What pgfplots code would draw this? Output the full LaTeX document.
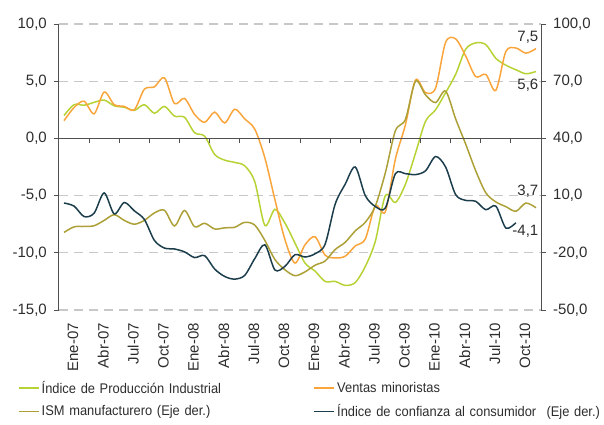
\documentclass[border=0pt]{standalone}
\usepackage{fontspec}
\setmainfont{Liberation Sans}
\newfontfamily\legfam[FakeStretch=0.92]{Liberation Sans}
\usepackage{pgfplots}
\usepackage{pgfplotstable}
\pgfplotsset{compat=1.18}
\definecolor{cIP}{RGB}{181,211,52}
\definecolor{cRet}{RGB}{250,165,60}
\definecolor{cISM}{RGB}{172,160,55}
\definecolor{cCC}{RGB}{28,62,76}
\definecolor{axgray}{RGB}{80,80,80}
\definecolor{gridgray}{RGB}{200,200,200}
\definecolor{txtgray}{RGB}{45,45,45}
\newcommand{\tickfont}{\fontsize{15}{18}\selectfont}
\newcommand{\legfont}{\legfam\fontsize{14}{17}\selectfont}

\pgfplotstableread{
i ip ret
0 2.0 1.55
1 2.95 2.7
2 2.9 3.25
3 3.15 2.15
4 3.35 4.05
5 2.85 2.95
6 2.72 2.8
7 2.45 2.5
8 2.95 4.3
9 2.2 4.5
10 2.8 5.3
11 1.95 3.05
12 1.85 3.5
13 0.5 2.1
14 0.2 1.4
15 -1.4 2.3
16 -1.9 1.35
17 -2.1 2.55
18 -2.4 1.7
19 -3.8 0.8
20 -7.6 -1.7
21 -6.2 -5.35
22 -7.4 -8.85
23 -9.15 -10.9
24 -10.9 -9.3
25 -11.6 -8.6
26 -12.5 -10.2
27 -12.5 -10.45
28 -12.85 -10.3
29 -12.6 -9.4
30 -11.2 -8.8
31 -9.0 -5.9
32 -5.0 -6.4
33 -5.6 -1.8
34 -4.0 1.2
35 -1.3 5.1
36 1.5 4.0
37 2.5 4.4
38 4.0 8.4
39 5.6 8.7
40 7.8 7.2
41 8.35 5.4
42 8.2 5.6
43 7.0 4.2
44 6.4 7.6
45 6.0 7.9
46 5.65 7.45
47 5.85 7.85
}\tleft

\pgfplotstableread{
i ism
0 -9.3
1 -6.4
2 -6.2
3 -5.8
4 -3.0
5 0.0
6 -3.0
7 -5.0
8 -3.0
9 0.9
10 2.3
11 -5.9
12 2.2
13 -6.3
14 -4.5
15 -7.5
16 -6.9
17 -6.6
18 -4.0
19 -5.5
20 -13.5
21 -23.5
22 -28.9
23 -32.0
24 -30.0
25 -26.5
26 -24.3
27 -18.3
28 -14.5
29 -8.5
30 -4.0
31 4.5
32 22.0
33 44.0
34 50.0
35 70.0
36 62.8
37 58.8
38 64.8
39 50.2
40 37.0
41 23.0
42 11.5
43 6.7
44 4.2
45 1.8
46 6.1
47 3.6
}\tism

\pgfplotstableread{
i cc
0 6.1
1 4.5
2 -1.0
3 0.8
4 11.4
5 0.4
6 6.4
7 2.0
8 -2.5
9 -13.5
10 -17.5
11 -18.0
12 -19.5
13 -22.5
14 -21.5
15 -28.5
16 -32.4
17 -33.8
18 -31.8
19 -23.0
20 -15.8
21 -29.0
22 -27.1
23 -21.0
24 -22.2
25 -20.5
26 -15.5
27 5.5
28 16.0
29 25.0
30 10.0
31 4.3
32 3.5
33 21.5
34 21.5
35 21.0
36 23.0
37 30.5
38 25.0
39 10.5
40 7.5
41 7.0
42 2.6
43 4.5
44 -7.0
45 -4.2
}\tcc

\begin{document}
\begin{tikzpicture}
\path[use as bounding box] (-59pt,-114pt) rectangle (545pt,310pt);
% left axis
\begin{axis}[
  at={(0pt,0pt)}, anchor=south west,
  scale only axis, width=482pt, height=286pt,
  xmin=0, xmax=48, ymin=-15, ymax=10,
  axis y line*=left, axis x line*=bottom,
  x axis line style={draw=none},
  y axis line style={draw=axgray, line width=1pt},
  xtick={1.5,4.5,...,46.5},
  xticklabels={Ene-07,Abr-07,Jul-07,Oct-07,Ene-08,Abr-08,Jul-08,Oct-08,Ene-09,Abr-09,Jul-09,Oct-09,Ene-10,Abr-10,Jul-10,Oct-10},
  xtick style={draw=none},
  xticklabel style={yshift=-8pt, xshift=-1pt, rotate=90, anchor=east, inner sep=0pt, font=\tickfont, text=txtgray},
  ytick={-15,-10,...,10},
  ytick style={draw=axgray, line width=1pt},
  tick align=outside, major tick length=5pt,
  ymajorgrids,
  grid style={draw=gridgray, line width=1.1pt, dash pattern=on 9pt off 6pt},
  yticklabel style={font=\tickfont, text=txtgray, inner sep=0pt, xshift=-7pt,
    /pgf/number format/.cd, fixed, fixed zerofill, precision=1, use comma, assume math mode=true},
  legend columns=2,
  legend style={draw=none, fill=none, at={(-0.085,-0.241)}, anchor=north west,
    inner sep=0pt, column sep=0pt, row sep=6pt,
    nodes={inner sep=2pt, text width=270pt, align=left, font=\legfont, text=txtgray}},
  legend image code/.code={\draw[#1, line width=1.5pt] (0pt,0pt) -- (20pt,0pt);},
  clip=false
]
\addplot[cIP, line width=1.5pt, smooth] table[x expr=\thisrow{i}+0.5, y=ip] {\tleft};
\addlegendentry{Índice de Producción Industrial}
\addplot[cRet, line width=1.5pt, smooth] table[x expr=\thisrow{i}+0.5, y=ret] {\tleft};
\addlegendentry{Ventas minoristas}
\addlegendimage{cISM, line width=1.5pt}
\addlegendentry{ISM manufacturero (Eje der.)}
\addlegendimage{cCC, line width=1.5pt}
\addlegendentry{\mbox{Índice de confianza al consumidor\hspace{0.4em} (Eje der.)}}
\node[anchor=east, inner sep=0pt, font=\tickfont, text=txtgray] at (axis cs:47.75,8.85) {7,5};
\node[anchor=east, inner sep=0pt, font=\tickfont, text=txtgray] at (axis cs:47.75,4.69) {5,6};
\node[anchor=east, inner sep=0pt, font=\tickfont, text=txtgray] at (axis cs:47.75,-4.63) {3,7};
\node[anchor=east, inner sep=0pt, font=\tickfont, text=txtgray] at (axis cs:47.75,-8.11) {-4,1};
\end{axis}
% right axis
\begin{axis}[
  at={(0pt,0pt)}, anchor=south west,
  scale only axis, width=482pt, height=286pt,
  xmin=0, xmax=48, ymin=-50, ymax=100,
  axis y line*=right, axis x line=none,
  y axis line style={draw=axgray, line width=1pt},
  ytick={-50,-20,...,100},
  ytick style={draw=axgray, line width=1pt},
  tick align=outside, major tick length=5pt,
  yticklabel style={font=\tickfont, text=txtgray, inner sep=0pt, xshift=7pt,
    /pgf/number format/.cd, fixed, fixed zerofill, precision=1, use comma, assume math mode=true},
]
\addplot[cISM, line width=1.5pt, smooth] table[x expr=\thisrow{i}+0.5, y=ism] {\tism};
\addplot[cCC, line width=1.5pt, smooth] table[x expr=\thisrow{i}+0.5, y=cc] {\tcc};
\end{axis}
% zero line with ticks
\begin{axis}[
  at={(0pt,0pt)}, anchor=south west,
  scale only axis, width=482pt, height=286pt,
  xmin=0, xmax=48, ymin=-15, ymax=10,
  axis x line=middle, axis y line=none,
  x axis line style={-, draw=axgray, line width=1pt},
  xtick={0,3,...,48}, xticklabels={},
  xtick style={draw=axgray, line width=1pt},
  tick align=outside, major tick length=5pt,
]
\end{axis}
\end{tikzpicture}
\end{document}
